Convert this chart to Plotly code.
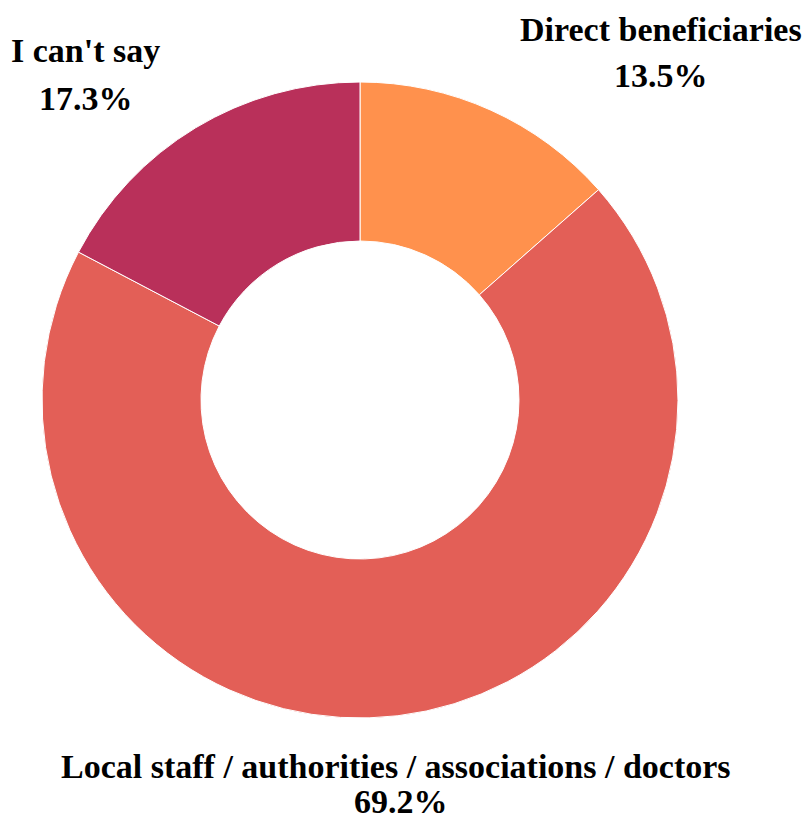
import plotly.graph_objects as go

labels = ["Direct beneficiaries", "Local staff / authorities / associations / doctors", "I can't say"]
values = [13.5, 69.2, 17.3]
colors = ["#FF914D", "#E35F57", "#B9305A"]

W, H = 804, 826

# label anchor points (pixel centres of the name line and the value line)
label_pos = [
    ((661, 29), (661, 76)),
    ((396, 766), (401, 801)),
    ((85, 51), (86, 98)),
]

fig = go.Figure(
    go.Pie(
        labels=labels,
        values=values,
        hole=0.5,
        sort=False,
        direction="clockwise",
        rotation=0,
        marker=dict(colors=colors, line=dict(color="white", width=1)),
        textinfo="none",
        showlegend=False,
        hoverinfo="label+percent",
        domain=dict(x=[40 / W, 680 / W], y=[1 - 718 / H, 1 - 82 / H]),
    )
)

font = dict(family="Liberation Serif", size=34, color="black")
for lab, val, ((lx, ly), (vx, vy)) in zip(labels, values, label_pos):
    fig.add_annotation(
        x=lx / W, y=1 - ly / H, xref="paper", yref="paper",
        text=f"<b>{lab}</b>", showarrow=False, font=font,
        xanchor="center", yanchor="middle",
    )
    fig.add_annotation(
        x=vx / W, y=1 - vy / H, xref="paper", yref="paper",
        text=f"<b>{val:.1f}%</b>", showarrow=False, font=font,
        xanchor="center", yanchor="middle",
    )

fig.update_layout(
    width=W,
    height=H,
    margin=dict(l=0, r=0, t=0, b=0, autoexpand=False),
    paper_bgcolor="white",
    plot_bgcolor="white",
)

fig.write_html("out.html")
